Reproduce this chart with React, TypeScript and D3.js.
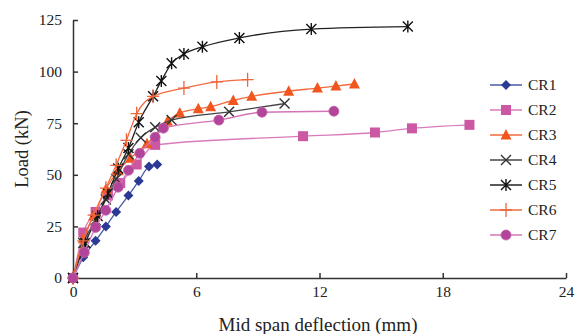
import React, { useEffect, useRef } from "react";
import * as d3 from "d3";

// mid span deflection (mm) and load (kN)
const cr1Defl = [0, 0.5, 1.1, 1.6, 2.1, 2.7, 3.2, 3.7, 4.1];
const cr1Load = [0, 10, 18, 25, 32, 40, 47, 54, 55];
const cr2Defl = [0, 0.5, 1.1, 1.7, 2.3, 3.1, 4.0, 11.2, 14.7, 16.5, 19.3];
const cr2Load = [0, 22, 32, 40, 46, 55, 64.5, 68.7, 70.5, 72.5, 74.2];
const cr3Defl = [0, 0.5, 1.0, 1.6, 2.2, 2.8, 3.6, 4.6, 5.2, 6.1, 6.7, 7.8, 8.7, 10.5, 11.9, 12.8, 13.7];
const cr3Load = [0, 19, 30, 43, 52, 58, 65, 76, 80, 82, 83, 86, 88, 90.5, 92, 93, 94];
const cr4Defl = [0, 0.5, 1.1, 1.6, 2.1, 2.7, 3.3, 4.0, 4.8, 7.6, 10.3];
const cr4Load = [0, 17, 28, 38, 48, 60, 68, 73, 76.5, 80.5, 84.5];
const cr5Defl = [0, 0.6, 1.2, 1.7, 2.2, 2.7, 3.2, 3.9, 4.3, 4.8, 5.4, 6.3, 8.1, 11.6, 16.3];
const cr5Load = [0, 17, 30, 41, 53, 63, 75.5, 88, 95.5, 104, 108.5, 112, 116.3, 120.6, 121.8];
const cr6Defl = [0, 0.5, 1.0, 1.6, 2.1, 2.6, 3.1, 3.9, 5.4, 7.0, 8.5];
const cr6Load = [0, 18, 30.5, 43.5, 54.6, 66.7, 79.6, 88, 92, 95, 96.1];
const cr7Defl = [0, 0.55, 1.1, 1.6, 2.2, 2.7, 3.25, 4.0, 4.4, 7.1, 9.2, 12.7];
const cr7Load = [0, 12.4, 24.5, 32.8, 44, 52.2, 60.4, 68.2, 72.6, 76.5, 80.3, 80.8];

const seriesNames = ["CR1", "CR2", "CR3", "CR4", "CR5", "CR6", "CR7"];
const xTicks = [0, 6, 12, 18, 24];
const yTicks = [0, 25, 50, 75, 100, 125];

const series = [
  { name: "CR1", x: cr1Defl, y: cr1Load, marker: "diamond", fill: "#2b3a94", line: "#4a58a8" },
  { name: "CR2", x: cr2Defl, y: cr2Load, marker: "square", fill: "#cc57a2", line: "#d77bbb" },
  { name: "CR3", x: cr3Defl, y: cr3Load, marker: "triangle", fill: "#f1561f", line: "#f26a3c" },
  { name: "CR4", x: cr4Defl, y: cr4Load, marker: "cross", fill: "#333", line: "#444" },
  { name: "CR5", x: cr5Defl, y: cr5Load, marker: "asterisk", fill: "#111", line: "#222" },
  { name: "CR6", x: cr6Defl, y: cr6Load, marker: "plus", fill: "#f0643a", line: "#f26c40" },
  { name: "CR7", x: cr7Defl, y: cr7Load, marker: "circle", fill: "#b2449a", line: "#d274b6" },
];

const drawMarker = (g, type, color) => {
  if (type === "diamond") {
    g.append("path").attr("d", "M0,-5L5,0L0,5L-5,0Z").attr("fill", color);
  } else if (type === "square") {
    g.append("rect").attr("x", -5).attr("y", -5).attr("width", 10).attr("height", 10).attr("fill", color);
  } else if (type === "triangle") {
    g.append("path").attr("d", "M0,-6L5.5,4.5L-5.5,4.5Z").attr("fill", color);
  } else if (type === "circle") {
    g.append("circle").attr("r", 5).attr("fill", color).attr("stroke", "#c060a8").attr("stroke-width", 0.8);
  } else if (type === "cross") {
    g.append("path").attr("d", "M-5,-5L5,5M-5,5L5,-5").attr("stroke", color).attr("stroke-width", 1.4);
  } else if (type === "asterisk") {
    g.append("path")
      .attr("d", "M-5,-5L5,5M-5,5L5,-5M0,-6L0,6")
      .attr("stroke", color)
      .attr("stroke-width", 1.4);
  } else if (type === "plus") {
    g.append("path").attr("d", "M-6,0L6,0M0,-7L0,7").attr("stroke", color).attr("stroke-width", 1.3);
  }
};

const App = () => {
  const ref = useRef(null);

  useEffect(() => {
    const svg = d3.select(ref.current);
    svg.selectAll("*").remove();

    const width = 576;
    const height = 334;
    svg.attr("width", width).attr("height", height);

    const x = d3.scaleLinear().domain([0, 24]).range([73, 566]);
    const y = d3.scaleLinear().domain([0, 125]).range([278, 20]);

    const font = "'Liberation Serif', 'Times New Roman', serif";

    // axes, ticks pointing inward
    const yAxis = svg
      .append("g")
      .attr("transform", `translate(${x(0)},0)`)
      .call(d3.axisLeft(y).tickValues(yTicks).tickSizeInner(-5).tickSizeOuter(0).tickPadding(11));
    const xAxis = svg
      .append("g")
      .attr("transform", `translate(0,${y(0)})`)
      .call(d3.axisBottom(x).tickValues(xTicks).tickSizeInner(-5).tickSizeOuter(0).tickPadding(8));

    [xAxis, yAxis].forEach((ax) => {
      ax.selectAll("path, line").attr("stroke", "#333").attr("stroke-width", 1.5);
      ax.selectAll("text").attr("font-family", font).attr("font-size", 15.5).attr("fill", "#222");
    });

    // series
    series.forEach((s) => {
      const pts = s.x.map((d, i) => [d, s.y[i]]);
      const line = d3
        .line()
        .x((d) => x(d[0]))
        .y((d) => y(d[1]))
        .curve(d3.curveMonotoneX);
      svg
        .append("path")
        .attr("d", line(pts))
        .attr("fill", "none")
        .attr("stroke", s.line)
        .attr("stroke-width", 1.3);
      pts.forEach((p) => {
        const g = svg.append("g").attr("transform", `translate(${x(p[0])},${y(p[1])})`);
        drawMarker(g, s.marker, s.fill);
      });
    });

    // legend
    const legendY = d3.scalePoint().domain(seriesNames).range([85, 235]);
    series.forEach((s) => {
      const ly = legendY(s.name);
      svg
        .append("line")
        .attr("x1", 490)
        .attr("x2", 522)
        .attr("y1", ly)
        .attr("y2", ly)
        .attr("stroke", s.line)
        .attr("stroke-width", 1.5);
      const g = svg.append("g").attr("transform", `translate(506,${ly})`);
      drawMarker(g, s.marker, s.fill);
      svg
        .append("text")
        .attr("x", 528)
        .attr("y", ly)
        .attr("dy", "0.35em")
        .attr("font-family", font)
        .attr("font-size", 15.5)
        .attr("fill", "#222")
        .text(s.name);
    });

    // axis titles
    svg
      .append("text")
      .attr("transform", `translate(22,${y(62.5)}) rotate(-90)`)
      .attr("text-anchor", "middle")
      .attr("dy", "0.35em")
      .attr("font-family", font)
      .attr("font-size", 18.5)
      .attr("fill", "#222")
      .text("Load (kN)");

    svg
      .append("text")
      .attr("x", 318)
      .attr("y", 331)
      .attr("text-anchor", "middle")
      .attr("font-family", font)
      .attr("font-size", 19)
      .attr("fill", "#222")
      .text("Mid span deflection (mm)");
  }, []);

  return <svg ref={ref} style={{ position: "absolute", left: 0, top: 0 }}></svg>;
};

export default App;
